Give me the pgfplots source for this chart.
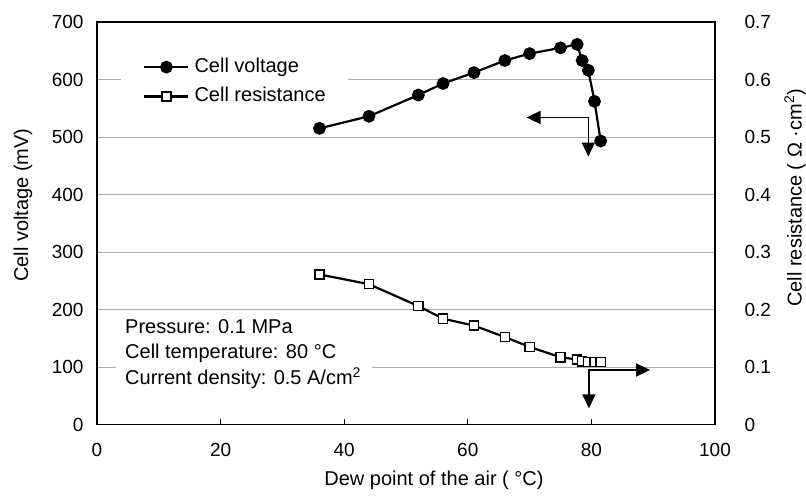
\documentclass[border=0pt]{standalone}
\usepackage{pgfplots}
\pgfplotsset{compat=1.18}
\usepackage{fontspec}
\setmainfont{Liberation Sans}
\usetikzlibrary{arrows.meta}

\begin{document}
\begin{tikzpicture}
\pgfplotsset{
  common/.style={
    scale only axis,
    width=618bp, height=402.5bp,
    xmin=0, xmax=100,
    /pgf/number format/assume math mode=true,
    tick label style={font=\fontsize{19bp}{22bp}\selectfont},
    label style={font=\fontsize{20bp}{24bp}\selectfont},
    axis line style={line width=1.8bp, black},
  },
}
\begin{axis}[common,
  ymin=0, ymax=700,
  xtick={0,20,40,60,80,100},
  ytick={0,100,200,300,400,500,600,700},
  xtick pos=lower, ytick pos=left,
  tick align=inside,
  major tick length=5bp,
  xtick style={black, line width=0.8bp},
  ytick style={draw=none},
  xticklabel style={yshift=-15bp},
  yticklabel style={xshift=-10bp},
  ymajorgrids,
  grid style={gray!65, line width=0.9bp},
  xlabel={Dew point of the air ( °C)},
  xlabel style={at={(axis description cs:0.5453,-0.1528)}, anchor=base},
  ylabel={Cell voltage (mV)},
  ylabel style={at={(axis description cs:-0.120,0.545)}, anchor=center, rotate=0},
  legend style={at={(axis cs:3.9,648)}, anchor=north west, fill=white, draw=none,
    inner xsep=22bp, inner ysep=5bp,
    font=\fontsize{20bp}{24bp}\selectfont,
    nodes={inner sep=0bp, text height=15bp, text depth=5bp},
    row sep=9.5bp,
    /tikz/every odd column/.append style={column sep=5bp}},
  legend cell align=left,
  legend image code/.code={\draw[mark repeat=2,mark phase=2,#1] plot coordinates {(0bp,0bp) (22bp,0bp) (44bp,0bp)};},
]
\coordinate (bl) at (rel axis cs:0,0);
\coordinate (tr) at (rel axis cs:1,1);
\addplot[black, line width=2.2bp, mark=*, mark size=5.3bp, mark options={solid, fill=black}]
  coordinates {(36,515) (44,536) (52,573) (56,593) (61,612) (66,633) (70,645) (75,655) (77.7,661) (78.5,633) (79.5,616) (80.5,562) (81.5,493)};
\addlegendentry{Cell voltage}
\addlegendimage{black, line width=2.2bp, mark=square*, mark size=4.6bp, mark options={solid, fill=white, line width=1.4bp}}
\addlegendentry{Cell resistance}
\fill[white] (axis cs:3.0,50) rectangle (axis cs:44.5,180);
\begin{scope}[every node/.style={anchor=base west, inner sep=0bp, font=\fontsize{20bp}{24bp}\selectfont}]
\node at (axis cs:4.53,159.1) {Pressure: 0.1 MPa};
\node at (axis cs:4.53,113.9) {Cell temperature: 80 °C};
\node at (axis cs:4.53,68.7) {Current density: 0.5 A/cm\textsuperscript{2}};
\end{scope}
\draw[line width=1.6bp, {Triangle[length=14bp,width=13bp]}-{Triangle[length=14bp,width=13bp]}]
  (axis cs:69.5,534) -- (axis cs:79.5,534) -- (axis cs:79.5,466);
\end{axis}

\begin{axis}[common,
  ymin=0, ymax=0.7,
  axis x line=none,
  axis y line*=right,
  ytick={0,0.1,0.2,0.3,0.4,0.5,0.6,0.7},
  ytick style={draw=none},
  yticklabel style={xshift=26bp},
  ylabel={Cell resistance ( Ω ·cm\textsuperscript{2})},
  ylabel style={at={(axis description cs:1.1294,0.563)}, anchor=center, rotate=0},
]
\addplot[black, line width=2.2bp, mark=square*, mark size=4.6bp, mark options={solid, fill=white, line width=1.4bp}]
  coordinates {(36,0.261) (44,0.244) (52,0.206) (56,0.184) (61,0.172) (66,0.152) (70,0.135) (75,0.117) (77.7,0.113) (78.5,0.110) (79.5,0.109) (80.5,0.109) (81.5,0.109)};
\draw[line width=1.6bp, {Triangle[length=14bp,width=13bp]}-{Triangle[length=14bp,width=13bp]}]
  (axis cs:89.5,0.0948) -- (axis cs:79.6,0.0948) -- (axis cs:79.6,0.028);
\end{axis}
\pgfresetboundingbox
\useasboundingbox ([shift={(-97bp,-77.5bp)}]bl) rectangle ([shift={(91bp,22bp)}]tr);
\end{tikzpicture}
\end{document}
